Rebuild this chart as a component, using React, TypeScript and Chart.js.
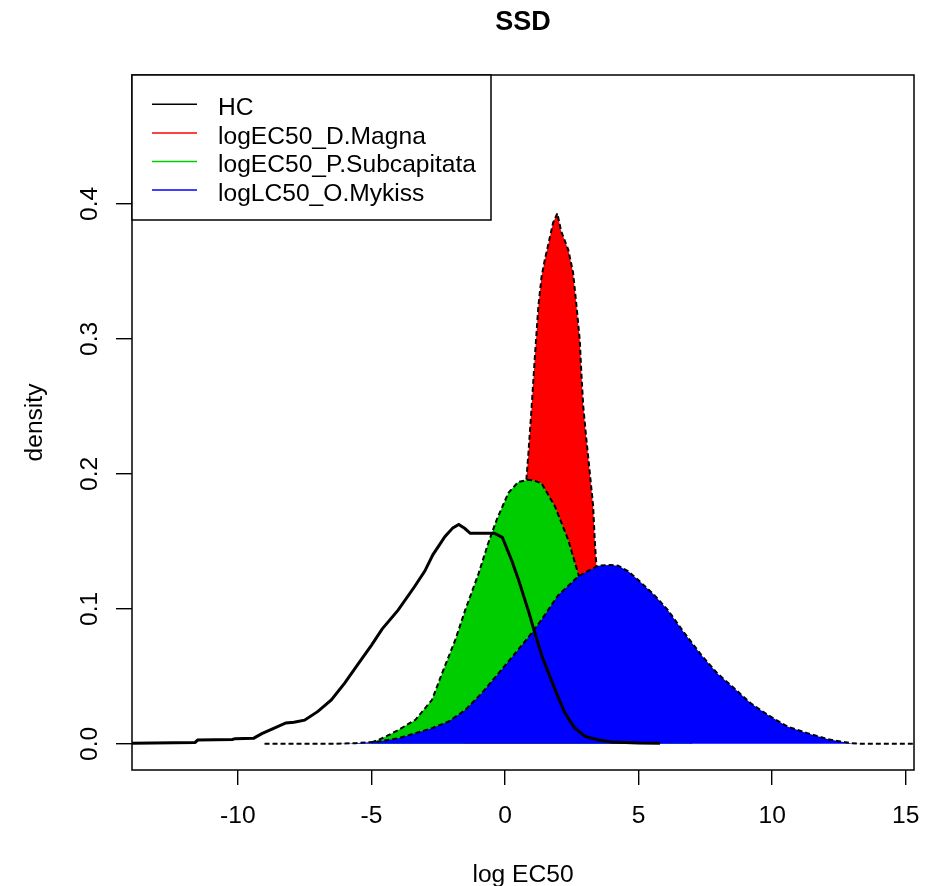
import React, { useEffect, useRef } from "react";
import { Chart, registerables } from "chart.js";

Chart.register(...registerables);

const TITLE = "SSD";
const X_TITLE = "log EC50";
const Y_TITLE = "density";
const X_TICKS = [-10, -5, 0, 5, 10, 15];
const Y_TICKS = [0, 0.1, 0.2, 0.3, 0.4];
const SERIES_NAMES = ["HC", "logEC50_D.Magna", "logEC50_P.Subcapitata", "logLC50_O.Mykiss"];
const SERIES_COLORS = ["#000000", "#FF0000", "#00CD00", "#0000FF"];

const HC_X = [-13.96, -11.6, -11.5, -10.2, -10.1, -9.4, -9.1, -8.7, -8.2, -7.9, -7.5, -7.0, -6.5, -6.0, -5.5, -5.0, -4.6, -4.0, -3.4, -3.0, -2.7, -2.25, -1.95, -1.73, -1.5, -1.3, -0.4, -0.1, 0.25, 0.5, 0.87, 1.12, 1.4, 1.74, 2.0, 2.24, 2.6, 3.0, 3.5, 4.0, 5.0, 5.8];
const HC_Y = [0.0005, 0.001, 0.0028, 0.0032, 0.0038, 0.0042, 0.0075, 0.011, 0.0155, 0.016, 0.0175, 0.024, 0.0325, 0.045, 0.059, 0.073, 0.085, 0.099, 0.116, 0.128, 0.14, 0.1535, 0.16, 0.1625, 0.1595, 0.156, 0.156, 0.153, 0.136, 0.122, 0.099, 0.082, 0.064, 0.047, 0.034, 0.023, 0.012, 0.0055, 0.0028, 0.0013, 0.0006, 0.0005];

const MAGNA_X = [-1.5, -1.0, -0.5, 0.0, 0.5, 0.81, 0.87, 1.0, 1.12, 1.25, 1.37, 1.49, 1.6, 1.8, 1.96, 2.1, 2.37, 2.55, 2.68, 2.8, 2.86, 2.93, 3.05, 3.18, 3.3, 3.36, 3.42, 3.6, 4.0, 4.5, 5.0, 5.5];
const MAGNA_Y = [0.001, 0.005, 0.017, 0.048, 0.11, 0.198, 0.213, 0.25, 0.287, 0.324, 0.346, 0.3585, 0.368, 0.386, 0.393, 0.38, 0.366, 0.349, 0.324, 0.299, 0.2745, 0.25, 0.225, 0.2, 0.176, 0.151, 0.1326, 0.1, 0.05, 0.018, 0.005, 0.001];

const SUBCAP_X = [-5.0, -4.72, -4.4, -3.98, -3.35, -2.73, -2.36, -1.86, -1.49, -0.99, -0.62, -0.31, 0.13, 0.5, 0.87, 1.1, 1.37, 1.87, 2.37, 2.74, 3.2, 3.8, 4.5, 5.2, 6.0, 7.0];
const SUBCAP_Y = [0.001, 0.003, 0.006, 0.0104, 0.0178, 0.0326, 0.052, 0.077, 0.099, 0.126, 0.149, 0.166, 0.186, 0.194, 0.1956, 0.195, 0.193, 0.176, 0.151, 0.126, 0.095, 0.06, 0.03, 0.012, 0.004, 0.001];

const MYKISS_X = [-9.0, -6.5, -5.6, -4.72, -3.98, -3.35, -2.73, -2.11, -1.49, -0.87, -0.25, 0.38, 1.0, 1.37, 1.99, 2.74, 3.2, 3.49, 3.9, 4.24, 4.6, 4.98, 5.6, 6.1, 6.72, 7.34, 7.96, 8.59, 9.2, 9.83, 10.57, 11.32, 12.07, 12.56, 12.94, 13.3, 15.5];
const MYKISS_Y = [0, 0, 0.0005, 0.0017, 0.0042, 0.0079, 0.0116, 0.0165, 0.025, 0.0375, 0.052, 0.067, 0.082, 0.092, 0.11, 0.124, 0.129, 0.132, 0.1325, 0.132, 0.128, 0.1215, 0.11, 0.099, 0.082, 0.066, 0.052, 0.041, 0.03, 0.0215, 0.0128, 0.0079, 0.0035, 0.0017, 0.0005, 0, 0];

const FONT = "'Liberation Sans', Arial, Helvetica, sans-serif";
const FS = 24.6;

const toPts = (xs: number[], ys: number[]) => xs.map((x, i) => ({ x, y: ys[i] }));

const decor = {
  id: "decor",
  afterDraw(chart: any) {
    const { ctx, chartArea: a, scales } = chart;
    ctx.save();
    // plot box
    ctx.strokeStyle = "#000";
    ctx.lineWidth = 1.5;
    ctx.setLineDash([]);
    ctx.strokeRect(a.left, a.top, a.right - a.left, a.bottom - a.top);

    ctx.fillStyle = "#000";
    // title
    ctx.font = `bold 27px ${FONT}`;
    ctx.textAlign = "center";
    ctx.textBaseline = "alphabetic";
    ctx.fillText(TITLE, (a.left + a.right) / 2, 29.5);

    // x title
    ctx.font = `${FS}px ${FONT}`;
    ctx.fillText(X_TITLE, (a.left + a.right) / 2, 882);

    // y tick labels (rotated like R)
    const ys = scales.y;
    Y_TICKS.forEach((v) => {
      const py = ys.getPixelForValue(v);
      ctx.save();
      ctx.translate(97, py);
      ctx.rotate(-Math.PI / 2);
      ctx.fillText(v.toFixed(1), 0, 0);
      ctx.restore();
    });

    // y title
    ctx.save();
    ctx.translate(42, (a.top + a.bottom) / 2);
    ctx.rotate(-Math.PI / 2);
    ctx.fillText(Y_TITLE, 0, 0);
    ctx.restore();

    // legend
    const lx0 = a.left, ly0 = a.top, lx1 = 491, ly1 = 220;
    ctx.fillStyle = "#fff";
    ctx.fillRect(lx0, ly0, lx1 - lx0, ly1 - ly0);
    ctx.strokeStyle = "#000";
    ctx.lineWidth = 1.5;
    ctx.strokeRect(lx0, ly0, lx1 - lx0, ly1 - ly0);
    ctx.textAlign = "left";
    SERIES_NAMES.forEach((name, i) => {
      const y = 104.3 + i * 28.6;
      ctx.strokeStyle = SERIES_COLORS[i];
      ctx.lineWidth = 1.5;
      ctx.beginPath();
      ctx.moveTo(152, y);
      ctx.lineTo(197, y);
      ctx.stroke();
      ctx.fillStyle = "#000";
      ctx.fillText(name, 218, y + 10.7);
    });
    ctx.restore();
  },
};

export default function App() {
  const ref = useRef<HTMLCanvasElement | null>(null);

  useEffect(() => {
    document.body.style.margin = "0";
    document.body.style.background = "#fff";
    if (!ref.current) return;
    const dashed = {
      borderColor: "#000",
      borderWidth: 2,
      borderDash: [5, 3],
      pointRadius: 0,
      tension: 0,
    };
    const chart = new Chart(ref.current, {
      type: "line",
      data: {
        datasets: [
          {
            label: SERIES_NAMES[0],
            data: toPts(HC_X, HC_Y),
            borderColor: "#000",
            borderWidth: 3,
            pointRadius: 0,
            fill: false,
            tension: 0,
            order: 0,
          },
          {
            ...dashed,
            label: SERIES_NAMES[1],
            data: toPts(MAGNA_X, MAGNA_Y),
            backgroundColor: SERIES_COLORS[1],
            fill: "origin",
            order: 3,
          },
          {
            ...dashed,
            label: SERIES_NAMES[2],
            data: toPts(SUBCAP_X, SUBCAP_Y),
            backgroundColor: SERIES_COLORS[2],
            fill: "origin",
            order: 2,
          },
          {
            ...dashed,
            label: SERIES_NAMES[3],
            data: toPts(MYKISS_X, MYKISS_Y),
            backgroundColor: SERIES_COLORS[3],
            fill: "origin",
            order: 1,
          },
        ] as any,
      },
      options: {
        responsive: false,
        animation: false,
        devicePixelRatio: 1,
        layout: { padding: { top: 75, right: 13, left: 0, bottom: 0 } },
        plugins: {
          legend: { display: false },
          title: { display: false },
          tooltip: { enabled: false },
        },
        scales: {
          x: {
            type: "linear",
            min: -13.96,
            max: 15.31,
            afterBuildTicks: (s: any) => {
              s.ticks = X_TICKS.map((v) => ({ value: v }));
            },
            afterFit: (s: any) => {
              s.height = 116;
              s.paddingLeft = 0;
              s.paddingRight = 0;
            },
            grid: {
              display: true,
              drawOnChartArea: false,
              drawTicks: true,
              tickLength: 15,
              color: "#000",
              lineWidth: 1.4,
            },
            border: { display: false },
            ticks: {
              autoSkip: false,
              maxRotation: 0,
              minRotation: 0,
              padding: 16,
              color: "#000",
              font: { family: FONT, size: FS },
              callback: (v: any) => String(v),
            },
          },
          y: {
            type: "linear",
            min: -0.0194,
            max: 0.4955,
            afterBuildTicks: (s: any) => {
              s.ticks = Y_TICKS.map((v) => ({ value: v }));
            },
            afterFit: (s: any) => {
              s.width = 132;
              s.paddingTop = 0;
              s.paddingBottom = 0;
            },
            grid: {
              display: true,
              drawOnChartArea: false,
              drawTicks: true,
              tickLength: 16,
              color: "#000",
              lineWidth: 1.4,
            },
            border: { display: false },
            ticks: { display: false },
          },
        },
      } as any,
      plugins: [decor],
    });
    return () => chart.destroy();
  }, []);

  return (
    <div style={{ width: 927, height: 886, background: "#fff" }}>
      <canvas ref={ref} width={927} height={886} style={{ display: "block", width: 927, height: 886 }} />
    </div>
  );
}
